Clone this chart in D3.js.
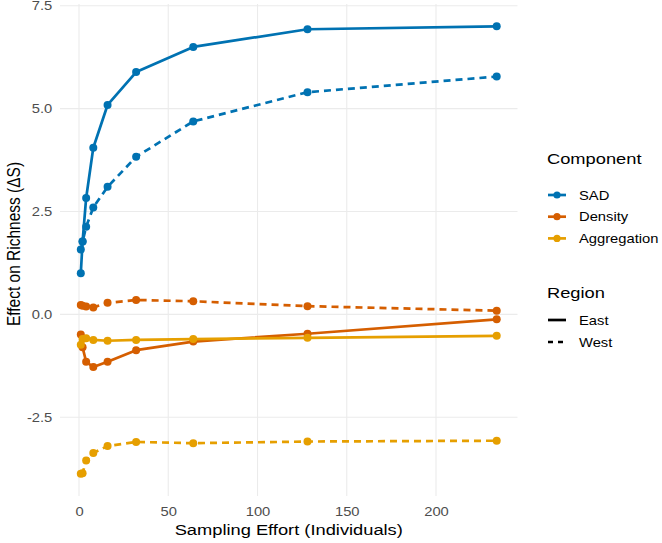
<!DOCTYPE html>
<html>
<head>
<meta charset="utf-8">
<script src="https://cdn.jsdelivr.net/npm/d3@7"></script>
<style>
	body { margin: 0; background: #fff; }
	text { font-family: "Liberation Sans", Arial, sans-serif; }
</style>
</head>
<body>
<div id="my_chart"></div>
<script>
// sampling effort (number of individuals)
var effort = [1, 2, 4, 8, 16, 32, 64, 128, 234];

var components = ['SAD', 'Density', 'Aggregation'];
var regions = ['East', 'West'];

var sadEast = [1.0, 1.77, 2.83, 4.05, 5.09, 5.89, 6.5, 6.93, 7.0];
var sadWest = [1.58, 1.77, 2.13, 2.6, 3.1, 3.83, 4.69, 5.4, 5.78];
var densityEast = [-0.49, -0.8, -1.15, -1.28, -1.15, -0.87, -0.66, -0.47, -0.12];
var densityWest = [0.23, 0.21, 0.19, 0.17, 0.28, 0.35, 0.32, 0.2, 0.09];
var aggregationEast = [-0.74, -0.6, -0.58, -0.62, -0.64, -0.62, -0.6, -0.57, -0.52];
var aggregationWest = [-3.87, -3.86, -3.55, -3.37, -3.2, -3.1, -3.13, -3.09, -3.07];

var xTicks = [0, 50, 100, 150, 200];
var yTicks = [-2.5, 0, 2.5, 5, 7.5];

(function () {

	var width = 662, height = 543;
	var sx = 1.18; // the reference text is a bit wide
	var colors = { 'SAD': '#0072B2', 'Density': '#D55E00', 'Aggregation': '#E69F00' };
	var dashes = { 'East': null, 'West': '7,5' };

	var series = [
		{ comp: 'SAD', region: 'East', values: sadEast },
		{ comp: 'SAD', region: 'West', values: sadWest },
		{ comp: 'Density', region: 'East', values: densityEast },
		{ comp: 'Density', region: 'West', values: densityWest },
		{ comp: 'Aggregation', region: 'East', values: aggregationEast },
		{ comp: 'Aggregation', region: 'West', values: aggregationWest }
	];

	// ggplot style 5% expansion on both axes
	var xMin = d3.min(effort), xMax = d3.max(effort);
	var xPad = (xMax - xMin) * 0.05;
	var all = d3.merge(series.map(function (s) { return s.values; }));
	var yMin = d3.min(all), yMax = d3.max(all);
	var yPad = (yMax - yMin) * 0.05;

	var x = d3.scaleLinear().domain([xMin - xPad, xMax + xPad]).range([60, 517.5]);
	var y = d3.scaleLinear().domain([yMin - yPad, yMax + yPad]).range([496, 4]);

	var svg = d3.select('#my_chart').append('svg')
		.attr('width', width)
		.attr('height', height);

	var addText = function (g, tx, ty, txt, size, anchor) {
		return g.append('text')
			.attr('transform', 'translate(' + tx + ',' + ty + ') scale(' + sx + ',1)')
			.attr('text-anchor', anchor || 'start')
			.style('font-size', size + 'px')
			.text(txt);
	}

	// grid
	svg.append('g').selectAll('line').data(xTicks).enter()
		.append('line')
		.attr('x1', function (d) { return x(d); })
		.attr('x2', function (d) { return x(d); })
		.attr('y1', y.range()[0])
		.attr('y2', y.range()[1])
		.attr('stroke', '#ebebeb')
		.attr('stroke-width', 1.1);

	svg.append('g').selectAll('line').data(yTicks).enter()
		.append('line')
		.attr('x1', x.range()[0])
		.attr('x2', x.range()[1])
		.attr('y1', function (d) { return y(d); })
		.attr('y2', function (d) { return y(d); })
		.attr('stroke', '#ebebeb')
		.attr('stroke-width', 1.1);

	// axes (text only, like theme_minimal)
	var xAxis = svg.append('g')
		.attr('transform', 'translate(0,' + (y.range()[0] + 2) + ')')
		.call(d3.axisBottom(x).tickValues(xTicks).tickSize(0).tickPadding(9)
			.tickFormat(function (d) { return String(d); }));
	var yAxis = svg.append('g')
		.attr('transform', 'translate(' + (x.range()[0] - 3) + ',0)')
		.call(d3.axisLeft(y).tickValues(yTicks).tickSize(0).tickPadding(4)
			.tickFormat(function (d) { return d.toFixed(1); }));

	[xAxis, yAxis].forEach(function (a) {
		a.select('.domain').remove();
		a.selectAll('text')
			.attr('fill', '#4d4d4d')
			.attr('transform', 'scale(' + sx + ',1)')
			.style('font-size', '12.5px')
			.style('font-family', '"Liberation Sans", Arial, sans-serif');
	});

	addText(svg, (x.range()[0] + x.range()[1]) / 2, 535, 'Sampling Effort (Individuals)', 15.5, 'middle');

	svg.append('text')
		.attr('transform', 'translate(20,244) scale(' + sx + ',1) rotate(-90)')
		.attr('text-anchor', 'middle')
		.style('font-size', '15.5px')
		.text('Effect on Richness (\u0394S)');

	// lines and points
	var line = d3.line()
		.x(function (d, i) { return x(effort[i]); })
		.y(function (d) { return y(d); });

	var groups = svg.append('g').selectAll('g').data(series).enter().append('g');

	groups.append('path')
		.attr('d', function (s) { return line(s.values); })
		.attr('fill', 'none')
		.attr('stroke', function (s) { return colors[s.comp]; })
		.attr('stroke-width', 2.7)
		.attr('stroke-linejoin', 'round')
		.attr('stroke-dasharray', function (s) { return dashes[s.region]; });

	groups.selectAll('circle').data(function (s) {
		return s.values.map(function (v, i) { return { x: effort[i], y: v, comp: s.comp }; });
	}).enter()
		.append('circle')
		.attr('cx', function (d) { return x(d.x); })
		.attr('cy', function (d) { return y(d.y); })
		.attr('r', 4)
		.attr('fill', function (d) { return colors[d.comp]; });

	// legends
	var leg = svg.append('g').attr('transform', 'translate(547,0)');

	addText(leg, 0, 164, 'Component', 15.5);

	var compItems = leg.selectAll('.comp').data(components).enter()
		.append('g')
		.attr('transform', function (d, i) { return 'translate(0,' + (195 + i * 21.7) + ')'; });
	compItems.append('line')
		.attr('x1', 1).attr('x2', 19).attr('y1', 0).attr('y2', 0)
		.attr('stroke', function (d) { return colors[d]; })
		.attr('stroke-width', 2.7);
	compItems.append('circle')
		.attr('cx', 10).attr('cy', 0).attr('r', 3.6)
		.attr('fill', function (d) { return colors[d]; });
	compItems.each(function (d) { addText(d3.select(this), 32, 4.5, d, 12.5); });

	addText(leg, 0, 298, 'Region', 15.5);

	var regItems = leg.selectAll('.reg').data(regions).enter()
		.append('g')
		.attr('transform', function (d, i) { return 'translate(0,' + (320 + i * 22) + ')'; });
	regItems.append('line')
		.attr('x1', 1).attr('x2', 19).attr('y1', 0).attr('y2', 0)
		.attr('stroke', '#000')
		.attr('stroke-width', 2.7)
		.attr('stroke-dasharray', function (d) { return d === 'West' ? '5,5' : null; });
	regItems.each(function (d) { addText(d3.select(this), 32, 4.5, d, 12.5); });

})();
</script>
</body>
</html>
